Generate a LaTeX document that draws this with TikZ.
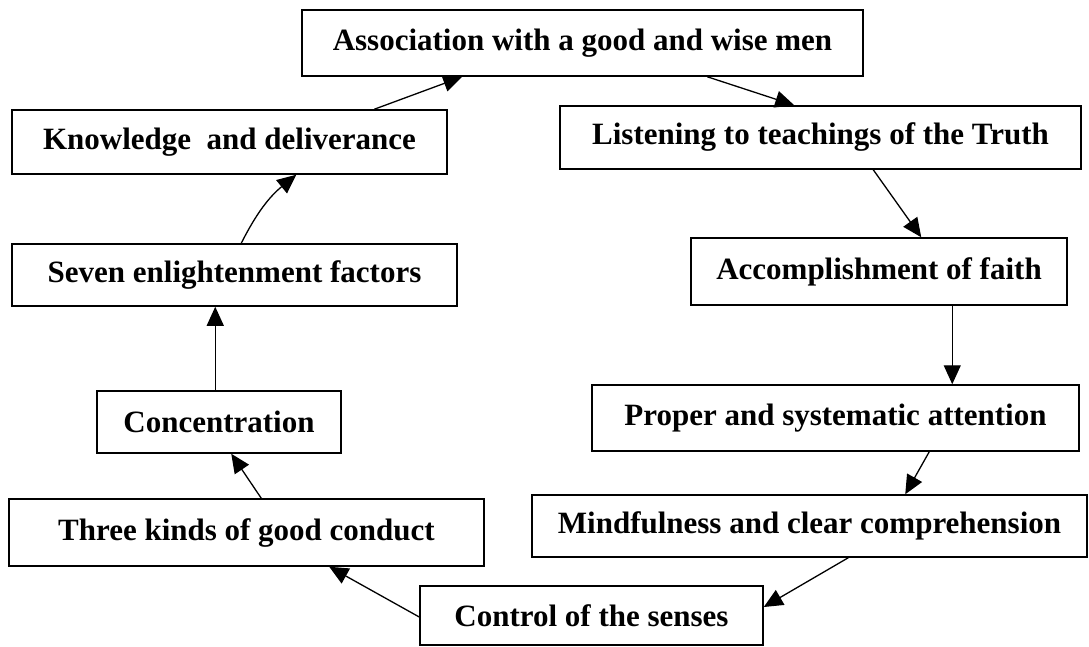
\documentclass[tikz,border=0pt]{standalone}
\usepackage{fontspec}
\setmainfont{Liberation Serif}
\usetikzlibrary{arrows.meta}
\begin{document}
\begin{tikzpicture}[x=1pt,y=-1pt,
  stepbox/.style={draw=black, line width=1.5pt, inner sep=0pt, fill=white,
    font=\bfseries\fontsize{31}{35}\selectfont, align=center},
  flow/.style={draw=black, line width=1.3pt, -{Triangle[length=19pt,width=17pt]}}]
\fill[white] (0,0) rectangle (1089,646);
\useasboundingbox (0,0) rectangle (1089,646);

\node[stepbox, minimum width=561pt, minimum height=66pt] (top) at (582.5,43) {Association with a good and wise men};
\node[stepbox, minimum width=521pt, minimum height=63pt] (listen) at (820.5,137.5) {Listening to teachings of the Truth};
\node[stepbox, minimum width=376pt, minimum height=67pt] (accomp) at (879,271.5) {Accomplishment of faith};
\node[stepbox, minimum width=487pt, minimum height=66pt] (proper) at (835.5,418) {Proper and systematic attention};
\node[stepbox, minimum width=555pt, minimum height=62pt] (mind) at (809.5,526) {Mindfulness and clear comprehension};
\node[stepbox, minimum width=343pt, minimum height=59pt] (control) at (591.5,615.5) {Control of the senses};
\node[stepbox, minimum width=475pt, minimum height=67pt] (three) at (246.5,532.5) {Three kinds of good conduct};
\node[stepbox, minimum width=244pt, minimum height=62pt] (conc) at (219,422) {Concentration};
\node[stepbox, minimum width=445pt, minimum height=62pt] (seven) at (234.5,275) {Seven enlightenment factors};
\node[stepbox, minimum width=435pt, minimum height=64pt] (know) at (229.5,142) {Knowledge\ \ and deliverance};

\draw[flow] ([xshift=363pt]know.north west) -- ([xshift=161pt]top.south west);
\draw[flow] ([xshift=406pt]top.south west) -- ([xshift=235pt]listen.north west);
\draw[flow] ([xshift=314pt]listen.south west) -- ([xshift=231pt]accomp.north west);
\draw[flow] ([xshift=262pt]accomp.south west) -- ([xshift=361pt]proper.north west);
\draw[flow] ([xshift=338pt]proper.south west) -- ([xshift=374pt]mind.north west);
\draw[flow] ([xshift=317pt]mind.south west) -- ([yshift=8.5pt]control.east);
\draw[flow] ([yshift=-1.5pt]control.west) -- ([xshift=321pt]three.south west);
\draw[flow] ([xshift=253pt]three.north west) -- ([xshift=135pt]conc.south west);
\draw[flow] ([xshift=119pt]conc.north west) -- ([xshift=204pt]seven.south west);
\draw[flow] ([xshift=230pt]seven.north west) to[bend left=12] ([xshift=285pt]know.south west);
\end{tikzpicture}
\end{document}
